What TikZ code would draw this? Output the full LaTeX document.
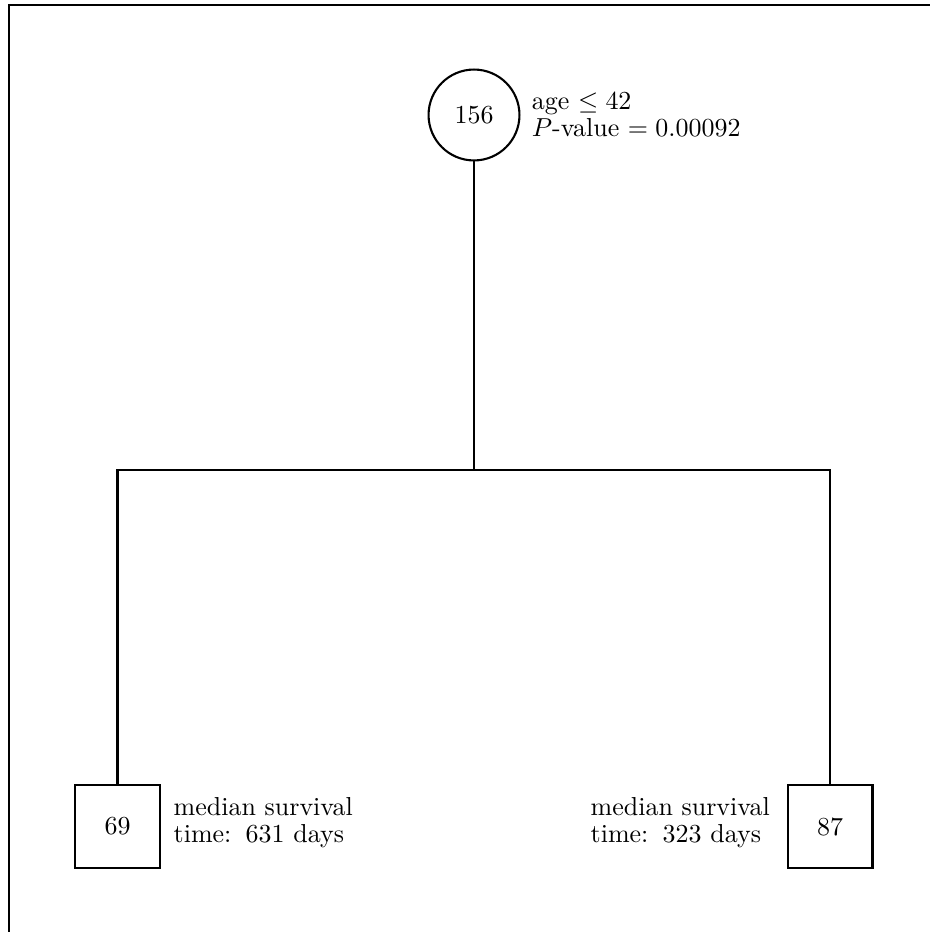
\documentclass[tikz,border=0pt]{standalone}
\usepackage{amsmath,amssymb}
\usetikzlibrary{positioning}

\begin{document}
\begin{tikzpicture}[x=0.385pt, y=-0.385pt, line width=0.8pt,
	every node/.style={font=\fontsize{10}{10.5}\selectfont},
	split/.style={draw, circle, minimum size=35pt, inner sep=0pt},
	leaf/.style={draw, rectangle, minimum width=32.7pt, minimum height=32pt, inner sep=0pt},
	info/.style={align=left, inner sep=0pt}]
	\useasboundingbox (0,0) rectangle (930,932);
	\draw (9,932) -- (9,5) -- (930,5);
	\node[split] (root) at (474,115) {156};
	\node[leaf] (left) at (117.5,826.5) {69};
	\node[leaf] (right) at (830,826.5) {87};
	\coordinate (fork) at (474,470);
	\node[info, right=4pt of root] (rootinfo) {age $\leq 42$\\$P$-value $= 0.00092$};
	\node[info, right=4.5pt of left, yshift=1.5pt] (leftinfo) {median survival\\time:\hspace*{5.5pt}631 days};
	\node[info, left=6pt of right, yshift=1.5pt] (rightinfo) {median survival\\time:\hspace*{5.5pt}323 days};
	\draw (root) -- (fork);
	\draw (fork) -| (left);
	\draw (fork) -| (right);
\end{tikzpicture}
\end{document}
